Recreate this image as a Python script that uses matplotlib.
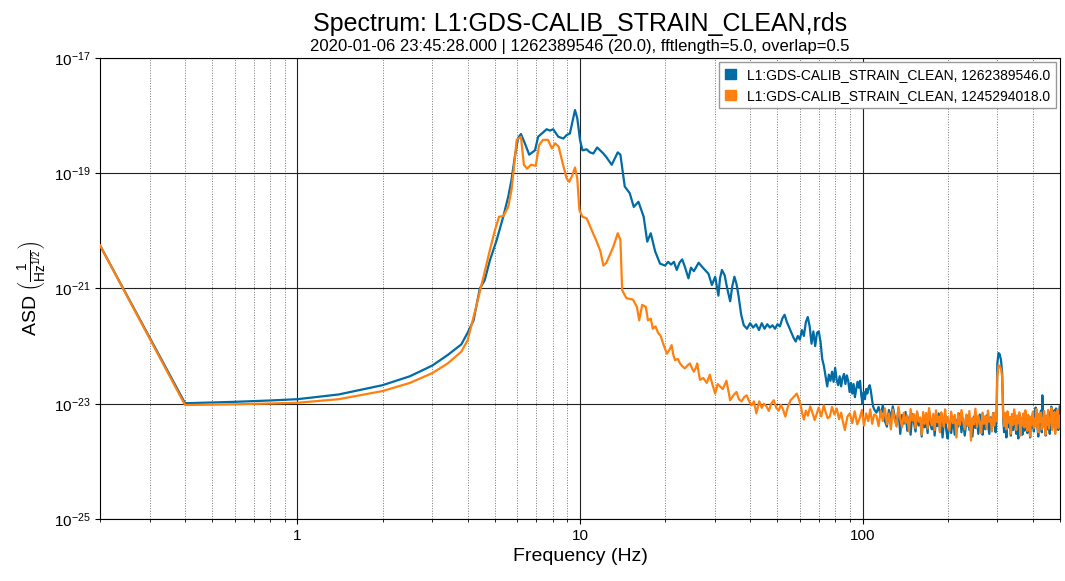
import numpy as np
import matplotlib
matplotlib.use("Agg")
import matplotlib.pyplot as plt
from matplotlib.ticker import LogLocator, NullLocator, FixedLocator, FixedFormatter
from matplotlib.patches import Patch

plt.rcParams['font.family'] = ['Liberation Sans', 'DejaVu Sans']
plt.rcParams['mathtext.fontset'] = 'custom'
plt.rcParams['mathtext.rm'] = 'Liberation Sans'
plt.rcParams['mathtext.it'] = 'Liberation Sans:italic'
plt.rcParams['mathtext.bf'] = 'Liberation Sans:bold'

title = "Spectrum: L1:GDS-CALIB_STRAIN_CLEAN,rds"
subtitle = "2020-01-06 23:45:28.000 | 1262389546 (20.0), fftlength=5.0, overlap=0.5"
label_blue = "L1:GDS-CALIB_STRAIN_CLEAN, 1262389546.0"
label_orange = "L1:GDS-CALIB_STRAIN_CLEAN, 1245294018.0"

# --- low / mid frequency part ---
blue_freq = [0.2, 0.4, 0.6, 0.8, 1.0, 1.4, 2.0, 2.5, 3.0, 3.4, 3.8, 4.0, 4.2,
             4.42, 4.6, 4.8, 5.07, 5.35, 5.57, 5.72, 5.88, 6.04, 6.18, 6.38,
             6.61, 6.93, 7.11, 7.62, 7.83, 8.04, 8.38, 8.73, 8.97, 9.21, 9.6,
             9.78, 10.0, 10.2, 10.56, 10.85, 11.15, 11.5, 12.1, 12.4, 12.95,
             13.6, 13.9, 14.4, 15.0, 15.5, 16.1, 16.8, 17.3, 17.8, 18.45, 19.2,
             20.0, 20.5, 21.0, 21.5, 22.0, 22.5, 23.0, 23.5, 24.2, 24.7, 25.3,
             26.3, 27.0, 27.7, 28.5, 29.3, 30.1, 30.9, 31.3, 31.8, 32.5, 33.2,
             34.0, 34.6, 35.2, 35.8, 36.4, 37.2, 37.9,
             38, 39, 40, 41, 42, 43, 44, 45, 46, 47, 48, 49, 50, 51, 52, 53,
             54, 55, 56, 57, 58, 59, 60, 61, 62, 63, 64, 65, 66, 67, 68, 69,
             70, 71, 72, 73, 74, 75, 76, 77, 78, 79, 80, 81, 82, 83, 84, 85,
             86, 87, 88, 89, 90, 91, 92, 93, 94, 95, 96, 97, 98, 99, 100, 101,
             102, 103, 104, 105, 106, 107, 108, 109, 110]
blue_asd = [5.6e-21, 1.02e-23, 1.08e-23, 1.14e-23, 1.2e-23, 1.45e-23, 2.1e-23,
            3.0e-23, 4.6e-23, 7.0e-23, 1.07e-22, 1.7e-22, 2.8e-22,
            1.0e-21, 1.4e-21, 3.1e-21, 6.9e-21, 1.76e-20, 3.9e-20, 7.6e-20,
            1.94e-19, 4.1e-19, 4.8e-19, 3.3e-19, 2.1e-19, 2.5e-19, 4.3e-19,
            5.8e-19, 5.5e-19, 5.8e-19, 4.3e-19, 4.0e-19, 4.6e-19, 4.9e-19,
            1.25e-18, 9.0e-19, 3.8e-19, 2.5e-19, 2.6e-19, 2.3e-19, 2.2e-19,
            2.8e-19, 2.2e-19, 1.9e-19, 1.4e-19, 2.3e-19, 2.1e-19, 5.9e-20,
            4.5e-20, 2.6e-20, 3.2e-20, 1.76e-20, 6.5e-21, 9.1e-21, 4.4e-21,
            2.7e-21, 2.5e-21, 2.9e-21, 2.6e-21, 2.9e-21, 2.1e-21, 2.8e-21,
            3.2e-21, 2.4e-21, 1.5e-21, 2.3e-21, 2.0e-21, 2.8e-21, 2.4e-21,
            2.1e-21, 1.8e-21, 1.15e-21, 1.6e-21, 7.5e-22, 1.5e-21, 2.1e-21,
            1.7e-21, 1.0e-21, 6.0e-22, 1.1e-21, 1.6e-21, 1.2e-21, 7.5e-22,
            3.5e-22, 2.4e-22,
            2.3e-22, 2.0e-22, 2.5e-22, 2.1e-22, 2.4e-22, 1.9e-22, 2.5e-22,
            2.0e-22, 2.4e-22, 2.1e-22, 2.3e-22, 2.0e-22, 2.4e-22, 2.2e-22,
            3.0e-22, 3.5e-22, 2.6e-22, 2.1e-22, 1.7e-22, 1.4e-22, 1.2e-22,
            1.5e-22, 1.3e-22, 1.9e-22, 1.5e-22, 2.6e-22, 3.2e-22, 2.2e-22,
            1.1e-22, 1.8e-22, 1.0e-22, 1.7e-22, 1.8e-22, 1.2e-22, 6.0e-23,
            4.5e-23, 3.0e-23, 2.0e-23, 3.2e-23, 2.5e-23, 3.6e-23, 2.4e-23,
            4.2e-23, 2.6e-23, 2.1e-23, 3.0e-23, 2.0e-23, 2.8e-23, 3.3e-23,
            2.2e-23, 3.1e-23, 2.5e-23, 1.6e-23, 2.3e-23, 1.5e-23, 2.2e-23,
            1.3e-23, 1.8e-23, 2.4e-23, 1.9e-23, 2.5e-23, 1.4e-23, 1.0e-23,
            1.6e-23, 1.2e-23, 1.8e-23, 1.5e-23, 1.9e-23, 2.1e-23, 1.7e-23,
            1.2e-23, 9.0e-24, 8.0e-24]

orange_freq = [0.2, 0.4, 0.6, 0.8, 1.0, 1.4, 2.0, 2.5, 3.0, 3.4, 3.8, 4.0, 4.2,
               4.4, 4.54, 4.8, 5.0, 5.17, 5.35, 5.57, 5.72, 5.84, 5.97, 6.18,
               6.33, 6.5, 6.7, 6.97, 7.17, 7.4, 7.7, 7.95, 8.17, 8.4, 8.68,
               8.97, 9.16, 9.4, 9.6, 9.78, 9.95, 10.2, 10.56, 11.0, 11.4, 11.8,
               12.1, 12.4, 12.8, 13.1, 13.6, 13.9, 14.1, 14.6, 15.0, 15.4, 15.9,
               16.2, 16.6, 17.1, 17.4, 17.8, 18.1, 18.5, 18.9, 19.3, 19.7, 20.3,
               20.7, 21.1, 21.4, 21.7, 22.2, 22.6, 23.0, 23.5, 24.0, 24.5, 25.0,
               25.3, 25.7, 26.0, 26.3, 26.6, 27.3, 28.1, 28.8, 29.4, 30.1, 30.7,
               31.3, 32.0, 32.6, 33.0, 33.5, 34.0, 34.9, 35.8, 36.5, 37.3, 38.1,
               38.9, 39.7, 40.5, 41.3, 42.1, 43.1, 44.0, 44.8, 45.7, 46.6, 47.5,
               48.5, 49.5, 50.5, 51.4, 52.3, 53.3, 54.4, 55.6, 57.0, 58.5, 59.5,
               60.4, 61.2, 62.0, 63.0, 64.1, 65.3, 66.5, 67.7, 68.9, 70.0, 71.4,
               72.9, 74.0, 75.3, 76.6, 78.0, 79.5, 81.0, 82.6, 84.0, 85.3, 86.6,
               88.4, 90.2, 92.0, 93.8, 95.8, 97.7, 99.5, 101.2, 103.0, 104.8,
               106.5, 108.2, 110.0]
orange_asd = [5.6e-21, 0.95e-23, 0.98e-23, 1.01e-23, 1.04e-23, 1.2e-23,
              1.66e-23, 2.3e-23, 3.4e-23, 5.0e-23, 8.0e-23, 1.26e-22, 3.2e-22,
              8.0e-22, 1.5e-21, 4.7e-21, 1.03e-20, 1.76e-20, 1.8e-20, 2.6e-20,
              5.1e-20, 1.29e-19, 3.8e-19, 4.3e-19, 1.4e-19, 1.2e-19, 1.4e-19,
              1.35e-19, 3.1e-19, 3.8e-19, 3.8e-19, 2.7e-19, 3.3e-19, 2.9e-19,
              1.5e-19, 8.1e-20, 7.1e-20, 9.3e-20, 1.26e-19, 8.1e-20, 2.3e-20,
              1.76e-20, 1.65e-20, 1.03e-20, 6.9e-21, 4.5e-21, 2.5e-21, 2.8e-21,
              4.0e-21, 5.2e-21, 9.1e-21, 7.0e-21, 9.3e-22, 6.8e-22, 6.6e-22,
              6.4e-22, 4.8e-22, 2.8e-22, 5.2e-22, 4.8e-22, 2.8e-22, 3.0e-22,
              2.0e-22, 2.2e-22, 1.7e-22, 1.5e-22, 1.1e-22, 7.4e-23, 8.5e-23,
              1.04e-22, 7.0e-23, 5.7e-23, 6.0e-23, 5.0e-23, 4.5e-23, 4.1e-23,
              4.6e-23, 5.0e-23, 4.0e-23, 3.6e-23, 4.2e-23, 5.0e-23, 3.5e-23,
              2.6e-23, 2.8e-23, 2.3e-23, 3.2e-23, 2.2e-23, 1.5e-23, 2.2e-23,
              2.0e-23, 1.8e-23, 2.2e-23, 2.5e-23, 1.7e-23, 1.15e-23, 1.4e-23,
              1.6e-23, 1.2e-23, 1.1e-23, 1.3e-23, 1.4e-23, 1.1e-23, 9.4e-24,
              1.1e-23, 6.8e-24, 1.1e-23, 8.5e-24, 1.0e-23, 9.0e-24, 7.5e-24,
              1.0e-23, 1.15e-23, 8.5e-24, 7.6e-24, 9.6e-24, 8.0e-24, 6.0e-24,
              8.8e-24, 1.15e-23, 1.3e-23, 1.5e-23, 1.2e-23, 9.4e-24, 6.8e-24,
              5.3e-24, 7.6e-24, 6.2e-24, 9.0e-24, 7.0e-24, 5.2e-24, 6.8e-24,
              8.6e-24, 6.0e-24, 9.4e-24, 7.2e-24, 5.6e-24, 6.0e-24, 8.8e-24,
              6.5e-24, 8.3e-24, 5.4e-24, 7.0e-24, 4.8e-24, 3.5e-24, 6.0e-24,
              6.8e-24, 4.6e-24, 7.4e-24, 4.4e-24, 5.6e-24, 7.8e-24, 4.2e-24,
              6.8e-24, 5.0e-24, 8.0e-24, 4.5e-24, 6.5e-24]

# --- high frequency noise floor (shared frequencies), values in units of 1e-24 ---
hf_freq = [112, 114, 116, 118, 120, 122, 124, 126, 128, 130, 132, 134, 136,
           138, 140, 142, 144, 146, 148, 150, 152, 154, 156, 158, 160, 162,
           164, 166, 168, 170, 172, 174, 176, 178, 180, 182, 184, 186, 188,
           190, 192, 194, 196, 198, 200,
           203, 206, 209, 212, 215, 218, 221, 224, 227, 230, 233, 236, 239,
           242, 245, 248, 251, 254, 257, 260, 263, 266, 269, 272, 275, 278,
           281, 284, 287, 290, 293, 296, 298,
           300, 303, 306, 309, 312, 315,
           317, 320, 323, 326, 329, 332, 335, 338, 341, 344, 347, 350, 353,
           356, 359, 362, 365, 368, 371, 374, 377, 380, 383, 386, 389, 392,
           395, 398, 401, 404, 407, 410, 413, 416, 419, 422, 425, 428, 431,
           433, 436, 439, 442, 445, 448, 451, 454, 457, 460, 463, 466, 469,
           472, 475, 478, 481, 484, 487, 490, 493, 496, 499]
hf_orange = [6.2, 4.1, 7.5, 5.0, 8.3, 4.4, 6.8, 3.6, 7.9, 5.2,
             4.0, 8.8, 5.5, 3.9, 7.0, 4.6, 6.3, 3.3, 8.1, 5.1,
             6.6, 3.8, 7.4, 4.9, 5.8, 2.9, 7.2, 4.5, 6.9, 3.7,
             8.4, 5.3, 4.2, 6.7, 3.5, 7.7, 4.8, 6.0, 3.2, 7.1,
             5.4, 4.0, 8.0, 4.7, 5.9,
             3.4, 7.3, 4.6, 6.4, 2.6, 6.9, 4.3, 7.8, 5.0, 3.6,
             6.5, 4.1, 7.5, 2.3, 5.7, 4.4, 8.2, 3.9, 6.2, 4.8,
             3.1, 7.0, 4.5, 6.1, 3.7, 7.6, 4.9, 5.6, 3.3, 6.8,
             4.2, 7.2, 5.0,
             30, 47, 44, 41, 30, 6.0,
             4.1, 6.9, 3.6, 7.4, 4.7, 5.9, 3.0, 6.6, 4.3, 8.0,
             5.1, 3.5, 6.3, 4.6, 7.1, 2.8, 5.8, 4.2, 6.8, 3.9,
             7.7, 4.8, 3.4, 6.4, 5.2, 2.7, 6.0, 4.4, 7.3, 3.8,
             5.5, 4.1, 8.1, 4.6, 3.2, 6.7, 4.9, 7.0, 3.6, 5.6,
             4.0, 7.5, 4.5, 2.9, 6.2, 4.3, 7.8, 3.7, 5.3, 4.8,
             8.5, 3.5, 6.5, 4.2, 7.2, 3.0, 5.9, 4.6, 7.9, 3.8,
             6.3, 4.4]
hf_blue = [7.0, 8.8, 6.2, 9.5, 5.0, 4.0, 7.8, 5.5, 9.0, 6.0,
           4.3, 8.2, 3.0, 6.4, 4.5, 7.2, 3.4, 5.8, 2.9, 6.6,
           4.8, 3.3, 7.0, 4.2, 5.4, 2.7, 6.1, 3.9, 5.0, 3.1,
           7.4, 4.4, 3.6, 6.0, 2.8, 5.6, 4.1, 6.8, 3.3, 5.2,
           2.6, 4.7, 6.4, 3.4, 2.5,
           4.6, 3.1, 5.9, 2.9, 5.2, 4.0, 6.7, 3.2, 5.5, 2.8,
           4.9, 6.2, 3.5, 5.0, 2.7, 6.0, 3.8, 5.4, 3.0, 6.5,
           4.1, 2.9, 5.7, 3.6, 6.3, 4.4, 3.0, 5.8, 3.9, 6.9,
           4.5, 3.2, 5.3,
           50, 76, 72, 58, 35, 5.0,
           3.2, 5.6, 2.6, 6.2, 3.9, 5.0, 2.8, 6.0, 3.5, 7.2,
           4.4, 3.0, 5.4, 2.5, 6.6, 3.7, 4.9, 2.9, 6.1, 3.4,
           7.0, 4.2, 3.1, 5.7, 4.6, 2.6, 5.2, 3.8, 6.8, 3.3,
           4.8, 8.6, 5.0, 3.9, 2.7, 6.0, 4.3, 7.6, 3.2, 14.0,
           5.5, 6.8, 4.0, 2.8, 5.9, 3.6, 7.4, 4.5, 3.0, 6.2,
           8.9, 3.8, 5.6, 4.1, 7.7, 3.4, 8.3, 4.7, 6.9, 3.5,
           7.2, 9.0]

blue_color = "#006BA4"
orange_color = "#FF800E"

f_blue = np.concatenate([blue_freq, hf_freq])
a_blue = np.concatenate([blue_asd, np.array(hf_blue) * 1e-24])
f_orange = np.concatenate([orange_freq, hf_freq])
a_orange = np.concatenate([orange_asd, np.array(hf_orange) * 1e-24])

fig = plt.figure(figsize=(10.65, 5.81), dpi=100)
ax = fig.add_axes([0.0939, 0.1067, 0.9014, 0.7935])

ax.plot(f_blue, a_blue, color=blue_color, lw=1.6, zorder=3)
ax.plot(f_orange, a_orange, color=orange_color, lw=1.6, zorder=4)

ax.set_xscale("log")
ax.set_yscale("log")
ax.set_xlim(0.2, 500)
ax.set_ylim(1e-25, 1e-17)

ax.xaxis.set_major_locator(FixedLocator([1, 10, 100]))
ax.xaxis.set_major_formatter(FixedFormatter(["1", "10", "100"]))
ax.xaxis.set_minor_locator(LogLocator(base=10, subs=np.arange(2, 10)))
ax.xaxis.set_minor_formatter(FixedFormatter([]))
ax.yaxis.set_major_locator(FixedLocator([1e-25, 1e-23, 1e-21, 1e-19, 1e-17]))
ax.yaxis.set_major_formatter(FixedFormatter([r"$10^{-25}$", r"$10^{-23}$",
                                             r"$10^{-21}$", r"$10^{-19}$",
                                             r"$10^{-17}$"]))
ax.yaxis.set_minor_locator(NullLocator())
ax.tick_params(labelsize=11)

ax.grid(True, which="major", color="#222222", lw=0.8, ls="-")
ax.grid(True, which="minor", axis="x", color="#777777", lw=0.7, ls=":")
ax.set_axisbelow(True)

ax.set_xlabel("Frequency (Hz)", fontsize=14)
ax.set_ylabel(r"ASD $\left(\frac{1}{\mathrm{Hz}^{1/2}}\right)$", fontsize=14)

ax.text(0.5, 1.0586, title, transform=ax.transAxes, ha="center",
        va="baseline", fontsize=18)
ax.text(0.5, 1.015, subtitle, transform=ax.transAxes, ha="center",
        va="baseline", fontsize=12)

handles = [Patch(facecolor=blue_color, edgecolor=blue_color, label=label_blue),
           Patch(facecolor=orange_color, edgecolor=orange_color, label=label_orange)]
leg = ax.legend(handles=handles, loc="upper right", fontsize=10,
                fancybox=False, framealpha=1, edgecolor="#999999",
                handlelength=0.8, handleheight=0.8, borderaxespad=0.3)
leg.set_zorder(10)

fig.savefig("out.png", dpi=100)
